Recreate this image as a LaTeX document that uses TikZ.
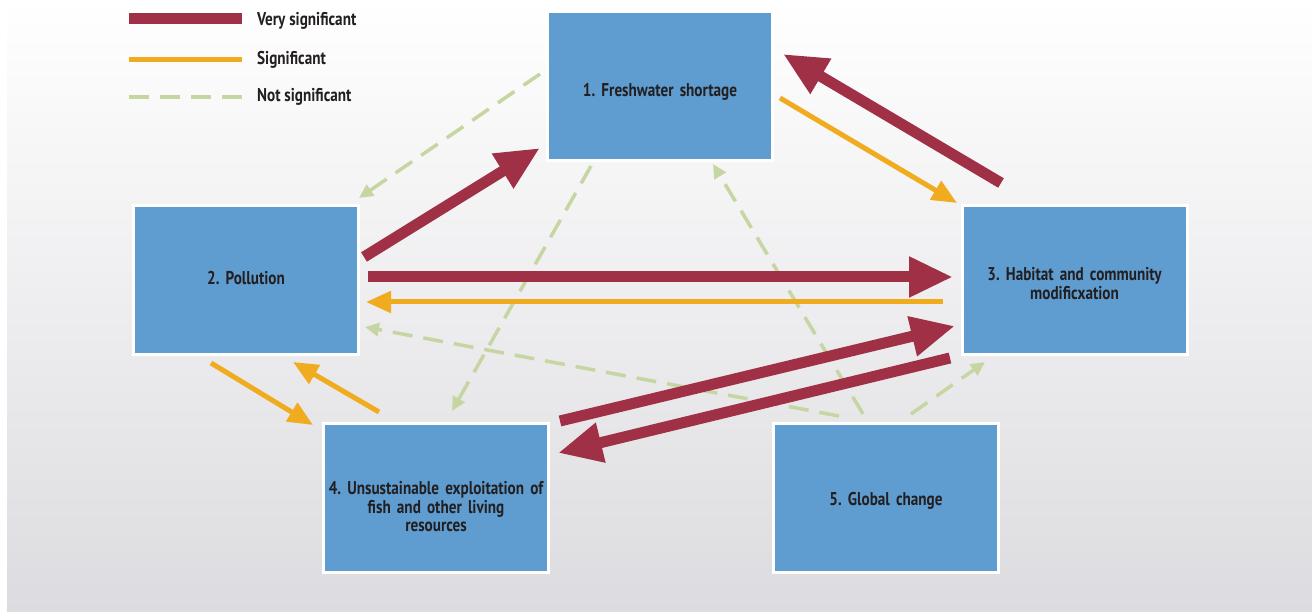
\documentclass[tikz,border=0pt]{standalone}
\usepackage{fontspec}
\setmainfont{PT Sans}[FakeStretch=0.82]
\usepackage{tikz}
\usetikzlibrary{arrows.meta}

\definecolor{boxblue}{HTML}{5F9DD1}
\definecolor{vsred}{HTML}{A03046}
\definecolor{sorange}{HTML}{F0AB1E}
\definecolor{nsgreen}{HTML}{C6D6A2}
\definecolor{txt}{HTML}{231F20}
\definecolor{bgbot}{HTML}{DCDBDF}

\begin{document}
\frenchspacing
\begin{tikzpicture}[x=1pt,y=1pt,
	issue/.style={draw=white,line width=3pt,fill=boxblue,minimum width=225pt,minimum height=149pt,
		outer sep=0pt,inner xsep=1pt,text width=222pt,align=center,text=txt,
		font=\bfseries\fontsize{18.5}{18.5}\selectfont},
	legtxt/.style={anchor=base west,text=txt,inner sep=0pt,font=\bfseries\fontsize{18.5}{18.5}\selectfont},
	vsig/.style={vsred,line width=11pt,-{Triangle[length=44pt,width=38pt]}},
	sig/.style={sorange,line width=5pt,-{Triangle[length=25pt,width=21pt]}},
	nsig/.style={nsgreen,line width=3.5pt,dash pattern=on 20pt off 11pt,-{Triangle[length=14pt,width=13pt]}}]
	
	\useasboundingbox (0,0) rectangle (1312,612);
	\shade[top color=white,bottom color=bgbot] (7,0) rectangle (1312,612);
	
	\node[issue,text height=21pt,text depth=0pt] (fresh) at (660,525.5) {1. Freshwater shortage};
	\node[issue,text height=10pt,text depth=0pt] (pol) at (246,332) {2. Pollution};
	\node[issue,text height=2pt,text depth=0pt] (hab) at (1074.5,332) {3. Habitat and community\\ modificxation};
	\node[issue,text height=0pt,text depth=7pt] (uns) at (436,113.5) {4. Unsustainable exploitation of\\ fish and other living\\ resources};
	\node[issue,text height=15pt,text depth=0pt] (glob) at (886,113.5) {5. Global change};
	
	% legend
	\node[legtxt] (lvs) at (257,586) {Very significant};
	\node[legtxt] (ls) at (257,547) {Significant};
	\node[legtxt] (lns) at (257,510) {Not significant};
	\draw[vsred,line width=11pt] (129,593) -- (242,593);
	\draw[sorange,line width=5pt] (129,552) -- (242,552);
	\draw[nsgreen,line width=3.5pt,dash pattern=on 20pt off 11pt] (129,515) -- (242,515);
	
	% not significant
	\draw[nsig] ([shift={(-7.5,12.5)}]fresh.west) -- ([shift={(0.5,7.5)}]pol.north east);
	\draw[nsig] ([shift={(43.5,-5)}]fresh.south west) -- ([shift={(16,13)}]uns.north);
	\draw[nsig] ([shift={(-23,10)}]glob.north) -- ([shift={(53,-3)}]fresh.south);
	\draw[nsig] ([shift={(-47,8)}]glob.north) -- ([shift={(6.5,-47)}]pol.east);
	\draw[nsig] ([shift={(25,10)}]glob.north) -- ([shift={(23,-7.5)}]hab.south west);
	
	% significant
	\draw[sig] ([shift={(7.5,-11.5)}]fresh.east) -- ([shift={(-5,2.5)}]hab.north west);
	\draw[sig] ([shift={(-19,-22)}]hab.west) -- ([shift={(7.5,-22)}]pol.east);
	\draw[sig] ([shift={(-35,-8.5)}]pol.south) -- ([shift={(-10.5,-1)}]uns.north west);
	\draw[sig] ([shift={(55.5,12)}]uns.north west) -- ([shift={(47,-7.5)}]pol.south);
	
	% very significant
	\draw[vsig] ([shift={(5.5,23)}]pol.east) -- ([shift={(-7.5,13)}]fresh.south west);
	\draw[vsig] ([shift={(39,22.5)}]hab.north west) -- ([shift={(10.5,32.5)}]fresh.east);
	\draw[vsig] ([shift={(9.5,3)}]pol.east) -- ([shift={(-9,3)}]hab.west);
	\draw[vsig] ([shift={(11.5,3)}]uns.north east) -- ([shift={(-7,28.5)}]hab.south west);
	\draw[vsig] ([shift={(-12,-3.5)}]hab.south west) -- ([shift={(9.5,45.5)}]uns.east);
	
\end{tikzpicture}
\end{document}
